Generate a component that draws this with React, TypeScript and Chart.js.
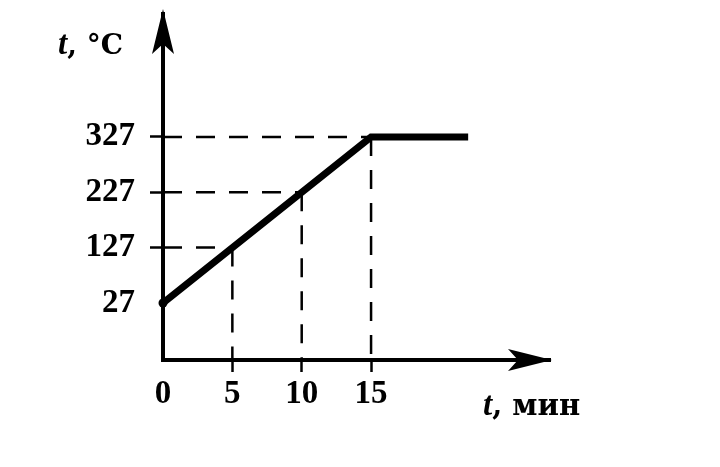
import React, { useEffect, useRef } from "react";
import { Chart, registerables } from "chart.js";

Chart.register(...registerables);

// Heating curve: time (min) vs temperature (°C)
const timeMin = [0, 15, 22];
const tempC = [27, 327, 327];

// Tick values
const xTickValues = [0, 5, 10, 15];
const yTickValues = [27, 127, 227, 327];

// Guide (dashed) points on the curve
const guideTime = [5, 10, 15];
const guideTemp = [127, 227, 327];

// Axis ranges (schematic axes)
const X_MIN = 0;
const X_MAX = 27.9;
const Y_MIN = -76;
const Y_MAX = 549;

const yAxisTitleItalic = "t";
const yAxisTitleRest = ", °C";
const xAxisTitleItalic = "t";
const xAxisTitleRest = ", мин";

const FONT_FAMILY = '"Liberation Serif", "DejaVu Serif", serif';
const WIDE_FAMILY = '"DejaVu Serif", "Liberation Serif", serif';

const arrowsPlugin = {
  id: "axisArrows",
  afterDraw(chart: any) {
    const { ctx, chartArea } = chart;
    const { left, right, top, bottom } = chartArea;
    ctx.save();
    ctx.fillStyle = "#000";
    // Y-axis arrow
    ctx.beginPath();
    ctx.moveTo(left, top - 5);
    ctx.lineTo(left + 11, top + 40);
    ctx.lineTo(left, top + 30);
    ctx.lineTo(left - 11, top + 40);
    ctx.closePath();
    ctx.fill();
    // X-axis arrow
    ctx.beginPath();
    ctx.moveTo(right + 2, bottom);
    ctx.lineTo(right - 42, bottom - 11);
    ctx.lineTo(right - 32, bottom);
    ctx.lineTo(right - 42, bottom + 11);
    ctx.closePath();
    ctx.fill();

    // Axis titles
    const drawTitle = (italic: string, rest: string, x: number, y: number, size: number) => {
      ctx.textBaseline = "alphabetic";
      ctx.textAlign = "left";
      ctx.font = `italic bold 33px ${FONT_FAMILY}`;
      ctx.fillText(italic, x, y);
      const w = ctx.measureText(italic).width;
      ctx.font = `bold ${size}px ${WIDE_FAMILY}`;
      ctx.fillText(rest, x + w, y);
    };
    drawTitle(yAxisTitleItalic, yAxisTitleRest, left - 105, top + 40, 28);
    drawTitle(xAxisTitleItalic, xAxisTitleRest, right - 67, bottom + 55, 29);
    ctx.restore();
  },
};

export default function App() {
  const canvasRef = useRef<HTMLCanvasElement | null>(null);

  useEffect(() => {
    if (!canvasRef.current) return;

    const guideDatasets: any[] = [];
    guideTime.forEach((t, i) => {
      // horizontal dashed line from y-axis to the curve
      guideDatasets.push({
        data: [
          { x: X_MIN, y: guideTemp[i] },
          { x: t, y: guideTemp[i] },
        ],
        borderColor: "#000",
        borderWidth: 2.5,
        borderDash: [19, 14],
        pointRadius: 0,
        clip: false,
      });
      // vertical dashed line from the curve down to x-axis
      guideDatasets.push({
        data: [
          { x: t, y: guideTemp[i] },
          { x: t, y: Y_MIN },
        ],
        borderColor: "#000",
        borderWidth: 2.5,
        borderDash: [19, 14],
        pointRadius: 0,
        clip: false,
      });
    });

    const chart = new Chart(canvasRef.current, {
      type: "line",
      data: {
        datasets: [
          {
            data: timeMin.map((t, i) => ({ x: t, y: tempC[i] })),
            borderColor: "#000",
            backgroundColor: "#000",
            borderWidth: 7,
            borderCapStyle: "butt",
            borderJoinStyle: "miter",
            pointRadius: [4.5, 0, 0],
            pointBorderWidth: 0,
            clip: false,
          },
          ...guideDatasets,
        ],
      },
      options: {
        responsive: false,
        animation: false,
        events: [],
        layout: { padding: { left: 0, right: 170, top: 14, bottom: 0 } },
        plugins: { legend: { display: false }, tooltip: { enabled: false } },
        scales: {
          x: {
            type: "linear",
            min: X_MIN,
            max: X_MAX,
            afterFit: (scale: any) => {
              scale.height = 107;
              scale.paddingLeft = 0;
              scale.paddingRight = 0;
            },
            afterBuildTicks: (scale: any) => {
              scale.ticks = xTickValues.map((v) => ({ value: v }));
            },
            border: { display: true, color: "#000", width: 4 },
            grid: {
              drawOnChartArea: false,
              drawTicks: true,
              tickLength: 12,
              tickWidth: 2.5,
              tickColor: (c: any) => (c.tick && c.tick.value === 0 ? "rgba(0,0,0,0)" : "#000"),
            },
            ticks: {
              color: "#000",
              padding: 3,
              autoSkip: false,
              maxRotation: 0,
              font: { family: FONT_FAMILY, size: 33, weight: "bold" },
              callback: (v: any) => String(v),
            },
          },
          y: {
            type: "linear",
            min: Y_MIN,
            max: Y_MAX,
            afterFit: (scale: any) => {
              scale.width = 163;
              scale.paddingTop = 0;
              scale.paddingBottom = 0;
            },
            afterBuildTicks: (scale: any) => {
              scale.ticks = yTickValues.map((v) => ({ value: v }));
            },
            border: { display: true, color: "#000", width: 4 },
            grid: {
              drawOnChartArea: false,
              drawTicks: true,
              tickLength: 13,
              tickWidth: 2.5,
              tickColor: (c: any) => (c.tick && c.tick.value === 27 ? "rgba(0,0,0,0)" : "#000"),
            },
            ticks: {
              color: "#000",
              padding: 15,
              autoSkip: false,
              font: { family: FONT_FAMILY, size: 33, weight: "bold" },
              callback: (v: any) => String(v),
            },
          },
        },
      },
      plugins: [arrowsPlugin],
    });

    return () => {
      chart.destroy();
    };
  }, []);

  return (
    <div style={{ position: "fixed", left: 0, top: 0, width: 720, height: 467, background: "#fff" }}>
      <canvas ref={canvasRef} width={720} height={467} style={{ width: 720, height: 467 }} />
    </div>
  );
}
